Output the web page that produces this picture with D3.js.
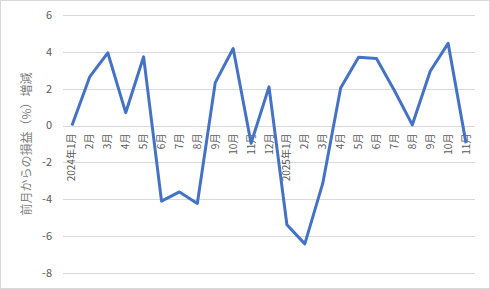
<!DOCTYPE html>
<html>
<head>
<meta charset="utf-8">
<script src="https://cdn.jsdelivr.net/npm/d3@7"></script>
<style>
  html, body { margin: 0; padding: 0; background: #fff; }
  svg { display: block; font-family: "Noto Sans CJK JP", "Noto Sans", sans-serif; }
</style>
</head>
<body>
<div id="chart"></div>
<script>
const months = ['2024年1月', '2月', '3月', '4月', '5月', '6月', '7月', '8月', '9月', '10月', '11月', '12月',
  '2025年1月', '2月', '3月', '4月', '5月', '6月', '7月', '8月', '9月', '10月', '11月'];
const changes = [0, 2.66, 3.95, 0.7, 3.73, -4.1, -3.6, -4.23, 2.33, 4.18, -0.96, 2.1,
  -5.38, -6.42, -3.14, 2.04, 3.71, 3.64, 1.9, 0.04, 2.95, 4.46, -0.96];
const yTicks = [6, 4, 2, 0, -2, -4, -6, -8];
const yTitle = '前月からの損益（%）増減';

const W = 490, H = 289;
const margin = { top: 15, right: 15, bottom: 16, left: 63 };

const svg = d3.select('#chart').append('svg')
  .attr('width', W)
  .attr('height', H);

// outer frame
svg.append('rect')
  .attr('x', 0.5).attr('y', 0.5)
  .attr('width', W - 1).attr('height', H - 1)
  .attr('fill', '#fff')
  .attr('stroke', '#d9d9d9');

const x = d3.scaleBand()
  .domain(d3.range(months.length))
  .range([margin.left, W - margin.right])
  .paddingInner(0).paddingOuter(0);

const y = d3.scaleLinear()
  .domain([-8, 6])
  .range([H - margin.bottom, margin.top]);

const cx = i => x(i) + x.bandwidth() / 2;

// gridlines
svg.append('g')
  .selectAll('line')
  .data(yTicks)
  .enter().append('line')
  .attr('x1', margin.left)
  .attr('x2', W - margin.right)
  .attr('y1', d => Math.round(y(d)) + 0.5)
  .attr('y2', d => Math.round(y(d)) + 0.5)
  .attr('stroke', '#d9d9d9')
  .attr('stroke-width', 1);

// y tick labels
svg.append('g')
  .selectAll('text')
  .data(yTicks)
  .enter().append('text')
  .attr('x', 52)
  .attr('y', d => y(d))
  .attr('dy', '0.35em')
  .attr('text-anchor', 'end')
  .attr('font-size', 11)
  .attr('fill', '#595959')
  .text(d => d);

// y axis title
svg.append('text')
  .attr('transform', `translate(27,${(margin.top + H - margin.bottom) / 2 + 0}) rotate(-90)`)
  .attr('text-anchor', 'middle')
  .attr('dy', '0.35em')
  .attr('font-size', 12)
  .attr('fill', '#7f7f7f')
  .text(yTitle);

// category labels, hanging below the zero line
svg.append('g')
  .selectAll('text')
  .data(months)
  .enter().append('text')
  .attr('transform', (d, i) => `translate(${cx(i)},${y(0) + 8}) rotate(-90)`)
  .attr('text-anchor', 'end')
  .attr('dy', '0.35em')
  .attr('font-size', 10)
  .attr('fill', '#595959')
  .text(d => d);

// data line
const line = d3.line()
  .x((d, i) => cx(i))
  .y(d => y(d));

svg.append('path')
  .datum(changes)
  .attr('d', line)
  .attr('fill', 'none')
  .attr('stroke', '#4472c4')
  .attr('stroke-width', 3)
  .attr('stroke-linejoin', 'round');
</script>
</body>
</html>
